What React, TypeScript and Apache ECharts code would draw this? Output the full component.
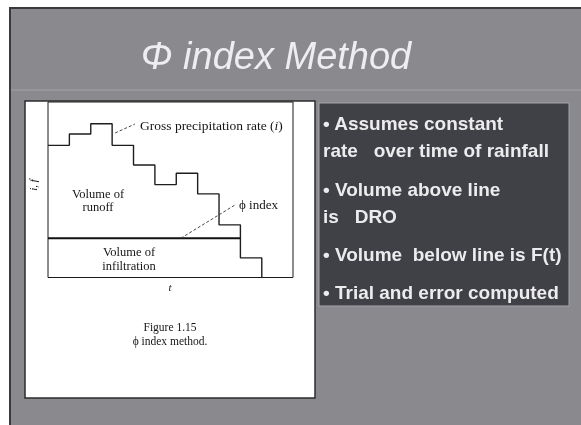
import React, { useEffect, useRef } from "react";
import * as echarts from "echarts";

// ---- data ----
const timeSteps = [0, 1, 2, 3, 4, 5, 6, 7, 8, 9, 10];
const rainRates = [12.8, 13.9, 14.9, 12.8, 10.9, 9.0, 10.1, 8.1, 5.1, 1.9, 0];
const phiIndex = 3.8;
const phiEnd = 9;
const xMax = 11.46;
const yMax = 17;
const grossLeader = [[3.14, 14.0], [4.07, 14.87]];
const phiLeader = [[6.21, 3.8], [8.75, 7.03]];

const titleText = "\u03A6 index Method";
const bulletLines = [
  "\u2022 Assumes constant",
  "rate\u00a0\u00a0\u00a0over time of rainfall",
  "\u2022 Volume above line",
  "is\u00a0\u00a0\u00a0DRO",
  "\u2022 Volume\u00a0\u00a0below line is F(t)",
  "\u2022 Trial and error computed",
];
const bulletY = [123, 150, 189, 216, 254, 292];

const SERIF = '"Liberation Serif", "Times New Roman", serif';
const SANS = '"Liberation Sans", Arial, sans-serif';

export default function App() {
  const ref = useRef<HTMLDivElement>(null);
  useEffect(() => {
    if (!ref.current) return;
    const chart = echarts.init(ref.current, undefined, { renderer: "svg" });
    const stepData = timeSteps.map((t, i) => [t, rainRates[i]]);
    const graphics: any[] = [
      // slide background
      { type: "rect", z: -10, shape: { x: 10, y: 8, width: 580, height: 430 }, style: { fill: "#89898e", stroke: "#3a3a3e", lineWidth: 2 } },
      { type: "line", z: -9, shape: { x1: 11, y1: 90, x2: 581, y2: 90 }, style: { stroke: "#a3a4a8", lineWidth: 1 } },
      // title
      { type: "text", z: 5, style: { text: titleText, x: 276, y: 56, align: "center", verticalAlign: "middle", fill: "#eeeef0", font: `italic 38px ${SANS}` } },
      // white figure panel
      { type: "rect", z: -8, shape: { x: 25, y: 101, width: 290, height: 297 }, style: { fill: "#ffffff", stroke: "#2c2c2e", lineWidth: 1.5 } },
      // dark text panel
      { type: "rect", z: -8, shape: { x: 319, y: 103, width: 250, height: 203 }, style: { fill: "#404147", stroke: "#a5a6aa", lineWidth: 1 } },
      // figure annotations
      {
        type: "text", z: 5,
        style: {
          text: "{n|Gross precipitation rate (}{i|i}{n|)}", x: 140, y: 125, verticalAlign: "middle",
          rich: { n: { font: `13.5px ${SERIF}`, fill: "#151515" }, i: { font: `italic 13.5px ${SERIF}`, fill: "#151515" } },
        },
      },
      { type: "text", z: 5, style: { text: "\u03D5 index", x: 239, y: 204, verticalAlign: "middle", font: `13px ${SERIF}`, fill: "#151515" } },
      { type: "text", z: 5, style: { text: "Volume of\nrunoff", x: 98, y: 200, align: "center", verticalAlign: "middle", lineHeight: 13, font: `12.5px ${SERIF}`, fill: "#151515" } },
      { type: "text", z: 5, style: { text: "Volume of\ninfiltration", x: 129, y: 258.5, align: "center", verticalAlign: "middle", lineHeight: 14, font: `12.5px ${SERIF}`, fill: "#151515" } },
      { type: "text", z: 5, x: 33, y: 185, rotation: Math.PI / 2, style: { text: "i, f", x: 0, y: 0, align: "center", verticalAlign: "middle", font: `italic 11px ${SERIF}`, fill: "#151515" } },
      { type: "text", z: 5, style: { text: "t", x: 170, y: 287, align: "center", verticalAlign: "middle", font: `italic 11px ${SERIF}`, fill: "#151515" } },
      { type: "text", z: 5, style: { text: "Figure 1.15", x: 170, y: 327, align: "center", verticalAlign: "middle", font: `11.5px ${SERIF}`, fill: "#151515" } },
      { type: "text", z: 5, style: { text: "\u03D5 index method.", x: 170, y: 341, align: "center", verticalAlign: "middle", font: `11.5px ${SERIF}`, fill: "#151515" } },
    ];
    bulletLines.forEach((line, i) => {
      graphics.push({
        type: "text", z: 5,
        style: { text: line, x: 323, y: bulletY[i], verticalAlign: "middle", font: `bold 19px ${SANS}`, fill: "#ececee" },
      });
    });

    chart.setOption({
      animation: false,
      grid: { left: 48, top: 102, width: 245, height: 175.5, show: true, borderColor: "#1a1a1a", borderWidth: 1, backgroundColor: "transparent", z: 3 },
      xAxis: { type: "value", min: 0, max: xMax, axisLine: { show: false }, axisTick: { show: false }, axisLabel: { show: false }, splitLine: { show: false } },
      yAxis: { type: "value", min: 0, max: yMax, axisLine: { show: false }, axisTick: { show: false }, axisLabel: { show: false }, splitLine: { show: false } },
      graphic: graphics,
      series: [
        { type: "line", step: "end", data: stepData, symbol: "none", lineStyle: { color: "#1e1e1e", width: 1.4 }, z: 4 },
        { type: "line", data: [[0, phiIndex], [phiEnd, phiIndex]], symbol: "none", lineStyle: { color: "#111", width: 2.2 }, z: 4 },
        { type: "line", data: grossLeader, symbol: "none", lineStyle: { color: "#333", width: 0.9, type: [3, 2] }, z: 4 },
        { type: "line", data: phiLeader, symbol: "none", lineStyle: { color: "#333", width: 0.9, type: [3, 2] }, z: 4 },
      ],
    });
    return () => chart.dispose();
  }, []);
  return <div ref={ref} style={{ position: "fixed", left: 0, top: 0, width: 581, height: 425 }} />;
}
